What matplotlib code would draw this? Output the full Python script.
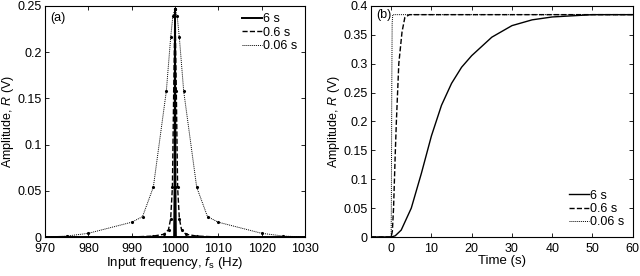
import matplotlib
matplotlib.use('Agg')
import matplotlib.pyplot as plt

plt.rcParams['font.family'] = ['Liberation Sans', 'DejaVu Sans']
plt.rcParams['font.size'] = 10
plt.rcParams['mathtext.fontset'] = 'custom'
plt.rcParams['mathtext.it'] = 'Liberation Sans:italic'
plt.rcParams['mathtext.rm'] = 'Liberation Sans'

labels = ['6 s', '0.6 s', '0.06 s']

# (a) amplitude vs input frequency
freq_6 = [970, 999.8, 999.9, 1000, 1000.1, 1000.2, 1030]
amp_6 = [0, 0, 0.054, 0.247, 0.054, 0, 0]

freq_06 = [990, 995, 997.5, 998.5, 999, 999.4, 999.7, 1000, 1000.3, 1000.6, 1001,
           1001.5, 1002.5, 1005, 1010]
amp_06 = [0, 0.001, 0.003, 0.008, 0.02, 0.054, 0.158, 0.247, 0.158, 0.054, 0.02,
          0.008, 0.003, 0.001, 0]

freq_006 = [970, 975, 980, 990, 992.5, 995, 998, 999, 999.5, 1000, 1000.5, 1001,
            1002, 1005, 1007.5, 1010, 1020, 1025, 1030]
amp_006 = [0, 0.001, 0.004, 0.016, 0.022, 0.054, 0.158, 0.216, 0.239, 0.247, 0.239,
           0.216, 0.158, 0.054, 0.022, 0.016, 0.004, 0.001, 0]

# (b) step response
t_6 = [-5, 0, 1, 2.5, 5, 7.5, 10, 12.5, 15, 17.5, 20, 25, 30, 35, 40, 45, 50, 60]
r_6 = [0, 0, 0.002, 0.012, 0.05, 0.11, 0.175, 0.228, 0.266, 0.294, 0.314, 0.346,
       0.366, 0.376, 0.381, 0.383, 0.385, 0.385]

t_06 = [-5, 0, 0.3, 0.6, 1.0, 1.3, 1.9, 2.7, 3.4, 4.5, 60]
r_06 = [0, 0, 0.01, 0.05, 0.14, 0.2, 0.3, 0.355, 0.38, 0.385, 0.385]

t_006 = [-5, 0, 0.05, 0.15, 0.25, 0.4, 60]
r_006 = [0, 0, 0.05, 0.25, 0.37, 0.385, 0.385]

fig = plt.figure(figsize=(6.4, 2.76), dpi=100)
ax1 = fig.add_axes([0.0703, 0.1413, 0.4063, 0.837])
ax2 = fig.add_axes([0.5797, 0.1413, 0.409, 0.837])

dot = (0, (1, 1))
ax1.plot(freq_6, amp_6, 'k-', lw=1.4, label=labels[0])
ax1.plot(freq_06, amp_06, 'k--', lw=1, label=labels[1])
ax1.plot(freq_006, amp_006, color='k', ls=dot, lw=0.7, label=labels[2])
for f, a in [(freq_6, amp_6), (freq_06, amp_06), (freq_006, amp_006)]:
    ax1.plot(f, a, 'k.', ms=2.5)
ax1.set_xlim(970, 1030)
ax1.set_ylim(0, 0.25)
ax1.set_xticks(range(970, 1031, 10))
ax1.set_yticks([0, 0.05, 0.1, 0.15, 0.2, 0.25])
ax1.set_yticklabels(['0', '0.05', '0.1', '0.15', '0.2', '0.25'])
ax1.set_xlabel('Input frequency, $f_\\mathrm{s}$ (Hz)', labelpad=0, fontsize=9.5)
ax1.set_ylabel('Amplitude, $R$ (V)', fontsize=9)
ax1.yaxis.set_label_coords(-0.112, 0.5)
ax1.text(0.02, 0.975, '(a)', transform=ax1.transAxes, va='top', ha='left', fontsize=9)
ax1.legend(loc='upper right', frameon=False, fontsize=9, handlelength=1.6,
           handletextpad=0.1, labelspacing=0.1, borderaxespad=0.2)

ax2.plot(t_6, r_6, 'k-', lw=1, label=labels[0])
ax2.plot(t_06, r_06, 'k--', lw=1, label=labels[1])
ax2.plot(t_006, r_006, color='k', ls=dot, lw=0.7, label=labels[2])
ax2.set_xlim(-5, 60)
ax2.set_ylim(0, 0.4)
ax2.set_xticks(range(0, 61, 10))
ax2.set_yticks([0, 0.05, 0.1, 0.15, 0.2, 0.25, 0.3, 0.35, 0.4])
ax2.set_yticklabels(['0', '0.05', '0.1', '0.15', '0.2', '0.25', '0.3', '0.35', '0.4'])
ax2.set_xlabel('Time (s)', labelpad=0, fontsize=9.5)
ax2.set_ylabel('Amplitude, $R$ (V)', fontsize=9)
ax2.yaxis.set_label_coords(-0.112, 0.5)
ax2.text(0.02, 0.985, '(b)', transform=ax2.transAxes, va='top', ha='left', fontsize=9)
ax2.legend(loc='lower right', frameon=False, fontsize=9, handlelength=1.6,
           handletextpad=0.1, labelspacing=0.1, borderaxespad=0.3)

for ax in (ax1, ax2):
    ax.tick_params(direction='in', top=True, right=True, length=3, width=0.6,
                   labelsize=9, pad=2.5)
    ax.tick_params(axis='x', pad=4.5)
    for s in ax.spines.values():
        s.set_linewidth(0.8)

fig.savefig('out.png', dpi=100)
